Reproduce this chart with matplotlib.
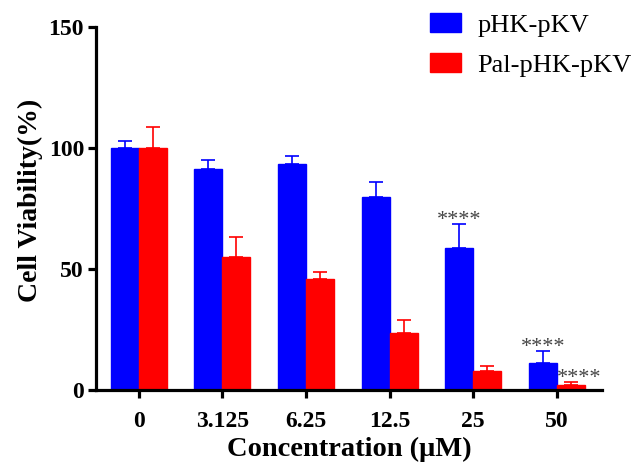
import numpy as np
import matplotlib
matplotlib.use("Agg")
import matplotlib.pyplot as plt

plt.rcParams['font.family'] = ['Liberation Serif', 'DejaVu Serif']

# data
conc_labels = ["0", "3.125", "6.25", "12.5", "25", "50"]
phk_mean = [100.0, 91.3, 93.4, 79.8, 58.7, 11.3]
phk_err = [3.0, 3.7, 3.3, 6.2, 10.0, 4.8]
pal_mean = [100.0, 55.0, 45.9, 23.3, 7.9, 1.9]
pal_err = [8.7, 8.0, 3.0, 5.6, 2.0, 1.5]
series_names = ["pHK-pKV", "Pal-pHK-pKV"]
# significance marks: (group index, series index, text)
sig_marks = [(4, 0, "****"), (5, 0, "****"), (5, 1, "****")]

blue = "#0000FF"
red = "#FF0000"

fig = plt.figure(figsize=(6.39, 4.63), dpi=100)
ax = fig.add_axes([0.150, 0.158, 0.792, 0.784])

x = np.arange(len(conc_labels))
w = 0.335

ax.bar(x - w / 2, phk_mean, w, color=blue, edgecolor=blue, label=series_names[0])
ax.bar(x + w / 2, pal_mean, w, color=red, edgecolor=red, label=series_names[1])
ax.errorbar(x - w / 2, phk_mean, yerr=[np.zeros(len(x)), phk_err], fmt="none",
            ecolor=blue, elinewidth=1.2, capsize=5, capthick=1.2)
ax.errorbar(x + w / 2, pal_mean, yerr=[np.zeros(len(x)), pal_err], fmt="none",
            ecolor=red, elinewidth=1.2, capsize=5, capthick=1.2)

means = [phk_mean, pal_mean]
errs = [phk_err, pal_err]
for gi, si, txt in sig_marks:
    xpos = x[gi] + (-w / 2 if si == 0 else w / 2)
    top = means[si][gi] + errs[si][gi]
    if si == 1:
        xpos += 0.1
    ax.text(xpos, top - 0.5, txt, ha="center", va="baseline", color="#444444",
            fontsize=16)

ax.set_xlim(-0.514, 5.54)
ax.set_ylim(0, 150)
ax.set_yticks([0, 50, 100, 150])
ax.set_xticks(x)
ax.set_xticklabels(conc_labels)

for s in ["top", "right"]:
    ax.spines[s].set_visible(False)
for s in ["left", "bottom"]:
    ax.spines[s].set_linewidth(2.3)

ax.tick_params(axis="both", width=2.3, length=5.5, labelsize=17)
ax.tick_params(axis="x", pad=9.5)
ax.tick_params(axis="y", pad=3)
for lab in ax.get_xticklabels() + ax.get_yticklabels():
    lab.set_fontweight("bold")

ax.set_xlabel("Concentration (\u03bcM)", fontsize=20.5, fontweight="bold", labelpad=4)
ax.set_ylabel("Cell Viability(%)", fontsize=20, fontweight="bold")
ax.yaxis.set_label_coords(-0.105, 0.523)

ax.legend(loc="upper left", bbox_to_anchor=(0.652, 1.0),
          bbox_transform=fig.transFigure, frameon=False, borderpad=0,
          fontsize=19, handlelength=1.2, handleheight=0.72, handletextpad=0.6,
          labelspacing=0.62)

fig.savefig("out.png", dpi=100)
